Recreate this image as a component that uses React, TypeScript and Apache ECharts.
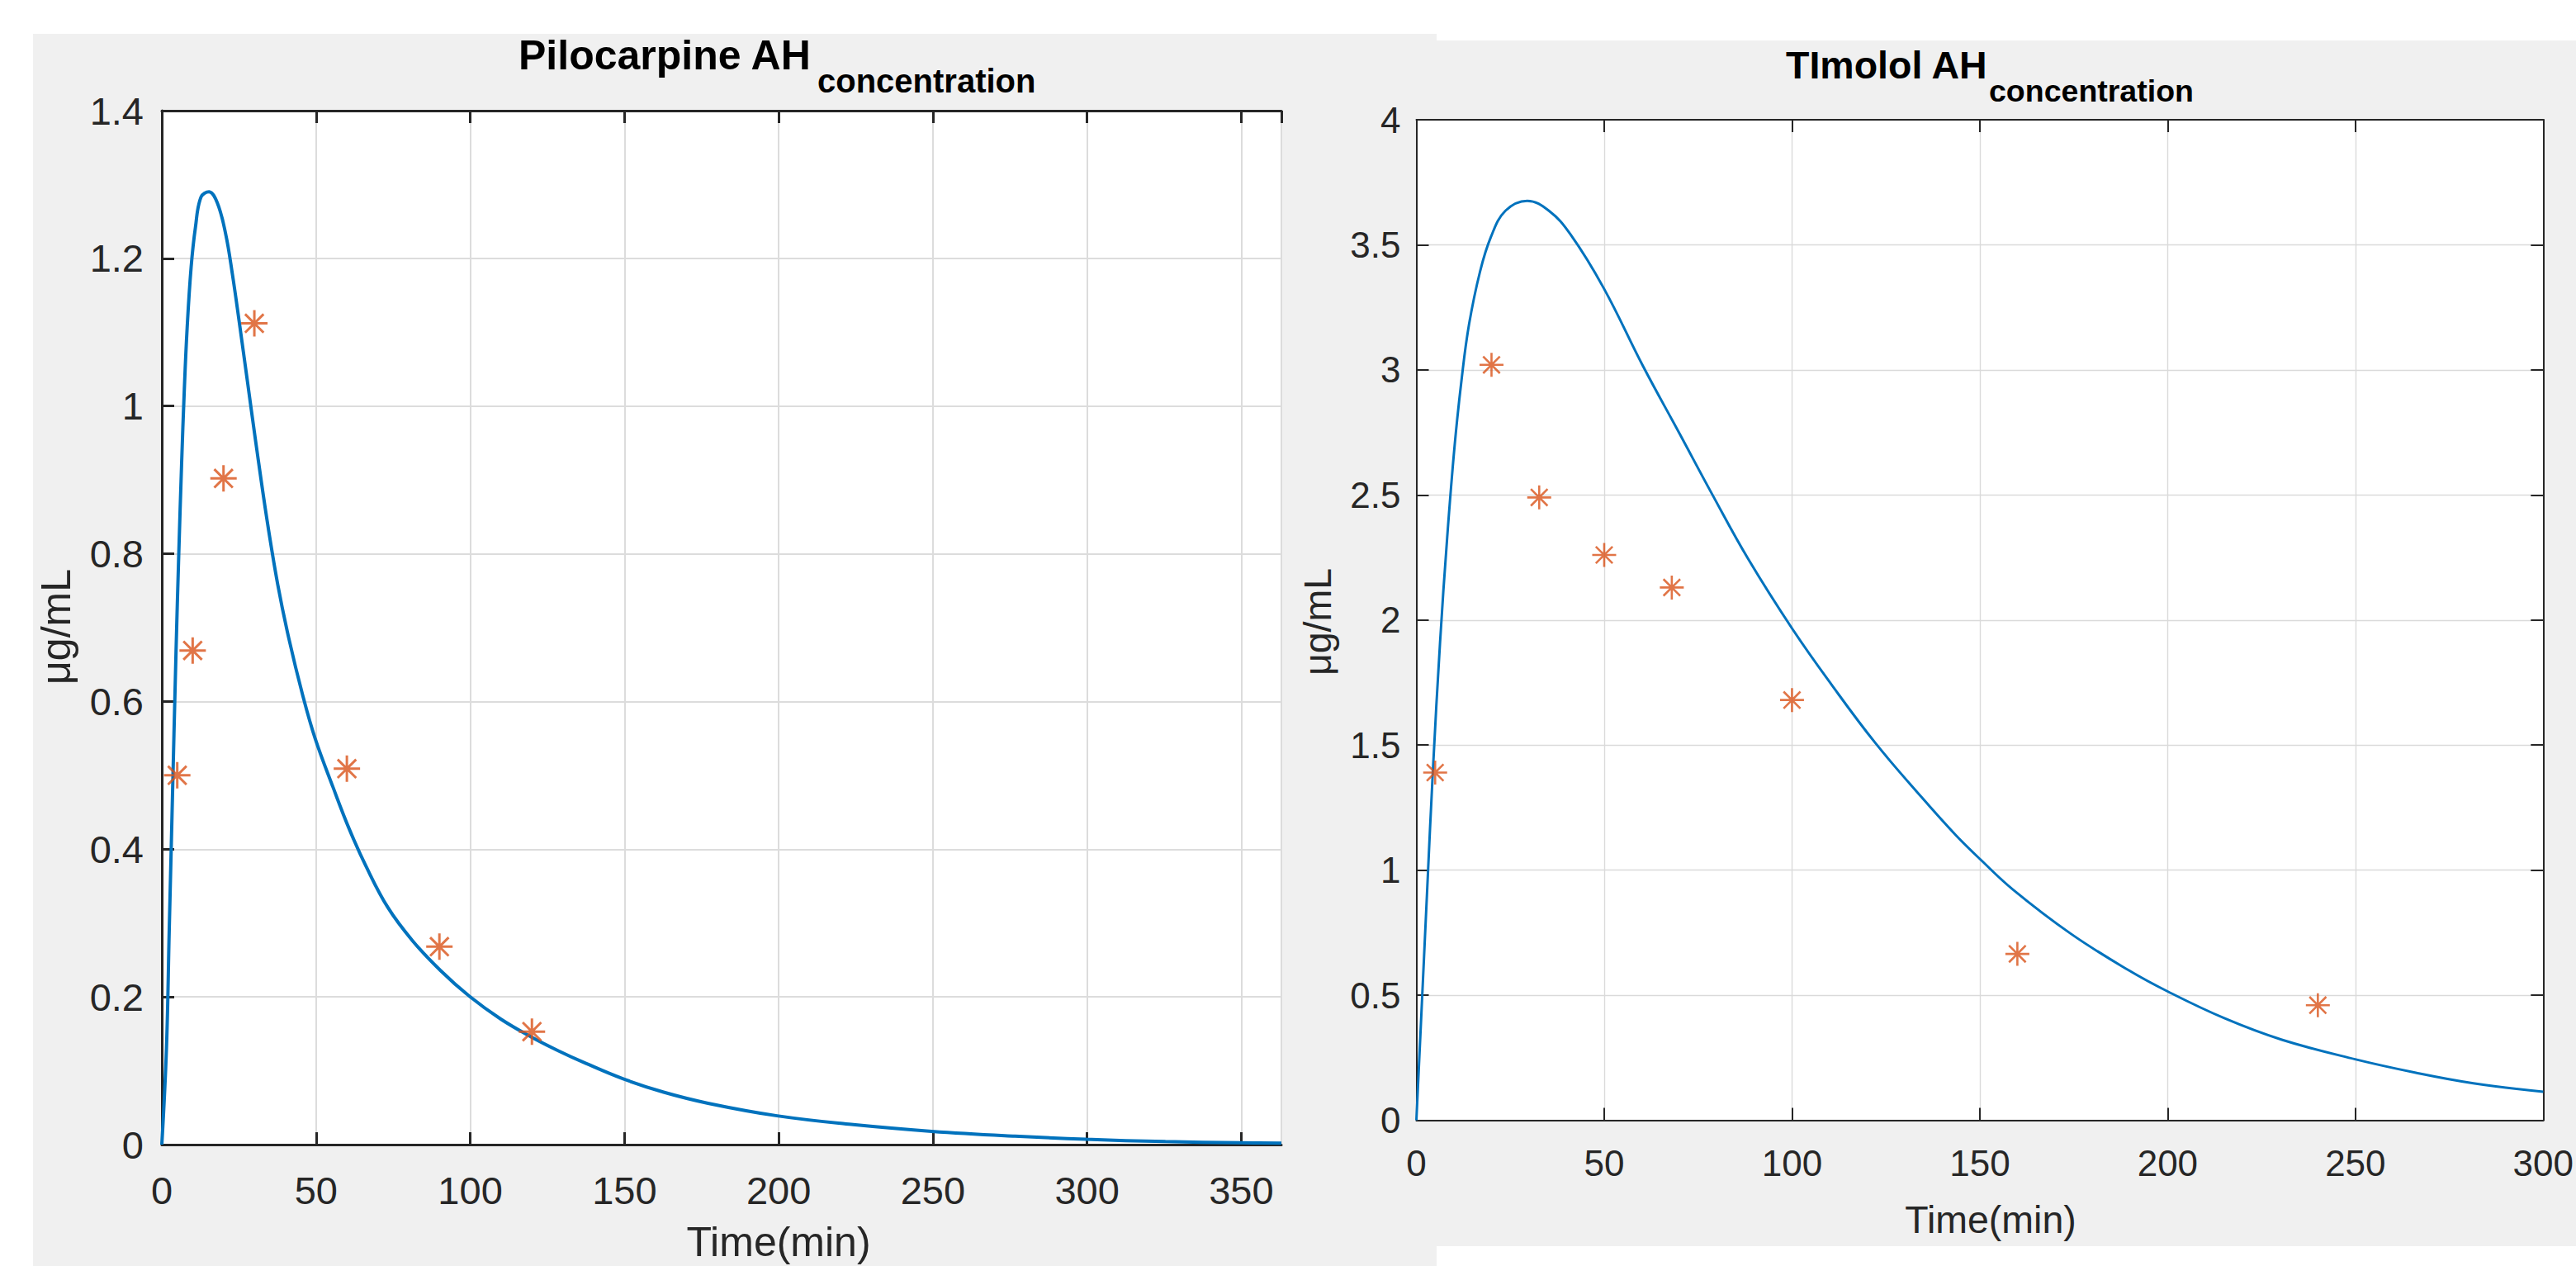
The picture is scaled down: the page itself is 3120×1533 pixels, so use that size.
import React, { useEffect, useRef } from "react";
import * as echarts from "echarts";

// ---------- data ----------
const pilocarpineCurveT = [0, 1.5, 2.4, 3.3, 4.6, 5.5, 6.4, 7.3, 8.2, 9.5, 10.9, 12.7, 15.3, 18.0, 20.7, 22.9, 25.1, 27.8, 30.5, 34.1, 37.6, 41.2, 45.7, 49.7, 55.5, 60.8, 66.2, 73.3, 81.3, 90.3, 99.7, 109.9, 119.7, 128.6, 137.5, 149.6, 162.7, 177.1, 199.5, 224.2, 249.6, 276.6, 299.6, 325.4, 349.5, 363];
const pilocarpineCurveV = [0, 0.13, 0.29, 0.445, 0.667, 0.80, 0.92, 1.023, 1.105, 1.188, 1.242, 1.283, 1.29, 1.275, 1.233, 1.178, 1.114, 1.032, 0.95, 0.846, 0.758, 0.685, 0.608, 0.550, 0.484, 0.427, 0.377, 0.321, 0.276, 0.236, 0.201, 0.170, 0.146, 0.127, 0.110, 0.089, 0.071, 0.056, 0.039, 0.027, 0.018, 0.0114, 0.0072, 0.0041, 0.0025, 0.0019];
const pilocarpineObsT = [5, 10, 20, 30, 60, 90, 120];
const pilocarpineObsV = [0.5, 0.669, 0.902, 1.112, 0.509, 0.268, 0.153];

const timololCurveT = [0, 1.5, 2.9, 4.4, 6.3, 8.2, 10.2, 12.1, 14.0, 16.9, 19.8, 23.7, 29.5, 35.3, 41.0, 49.9, 60.3, 70.0, 78.7, 88.3, 100.2, 110.5, 122.1, 134.6, 143.6, 150, 159, 174.3, 189.6, 200, 215.1, 230.4, 249.9, 266.1, 281.4, 300];
const timololCurveV = [0, 0.48, 0.93, 1.40, 1.91, 2.33, 2.70, 2.97, 3.18, 3.39, 3.53, 3.636, 3.676, 3.636, 3.542, 3.326, 3.016, 2.747, 2.504, 2.245, 1.962, 1.742, 1.510, 1.290, 1.140, 1.045, 0.920, 0.745, 0.600, 0.515, 0.408, 0.322, 0.244, 0.190, 0.148, 0.114];
const timololObsT = [5, 20, 32.7, 50, 68, 100, 160, 240];
const timololObsV = [1.39, 3.02, 2.49, 2.26, 2.13, 1.68, 0.665, 0.46];

const pilocarpineXMax = 363;
const pilocarpineYMax = 1.4;
const pilocarpineYStep = 0.2;
const timololXMax = 300;
const timololYMax = 4;
const timololYStep = 0.5;
const xStep = 50;

const leftTitle = "Pilocarpine AH";
const rightTitle = "TImolol AH";
const titleSub = "concentration";
const xName = "Time(min)";
const yName = "\u03bcg/mL";

const FONT = "Liberation Sans, Arial, Helvetica, sans-serif";
const AXIS_COLOR = "#262626";
const LINE_COLOR = "#0072BD";
const MARK_COLOR = "#D95319";
const ASTERISK = "path://M0,10L20,10M10,0L10,20M3,3L17,17M3,17L17,3";

const zip = (a: number[], b: number[]) => a.map((v, i) => [v, b[i]]);

function xAxisPair(grid: number, max: number, fs: number, margin: number, lw: number, gridW: number, gridC: string, hideMax: boolean) {
  const common = {
    gridIndex: grid,
    type: "value",
    min: 0,
    max,
    interval: xStep,
    axisLine: { show: true, onZero: false, lineStyle: { color: AXIS_COLOR, width: lw } },
    axisTick: { show: true, inside: true, length: 15, lineStyle: { color: AXIS_COLOR, width: lw } },
  };
  return [
    {
      ...common,
      position: "bottom",
      axisLabel: { show: true, margin, fontSize: fs, color: AXIS_COLOR, fontFamily: FONT, showMaxLabel: !hideMax },
      splitLine: { show: true, lineStyle: { color: gridC, width: gridW } },
    },
    {
      ...common,
      position: "top",
      axisLabel: { show: false },
      splitLine: { show: false },
    },
  ];
}

export default function App() {
  const ref = useRef<HTMLDivElement>(null);

  useEffect(() => {
    if (!ref.current) return;
    const chart = echarts.init(ref.current, undefined, { renderer: "svg" });

    const option: any = {
      animation: false,
      backgroundColor: "#ffffff",
      textStyle: { fontFamily: FONT },
      grid: [
        { left: 196, top: 134, width: 1356, height: 1252, show: true, backgroundColor: "#ffffff", borderWidth: 0, containLabel: false },
        { left: 1715.5, top: 145, width: 1385, height: 1211.5, show: true, backgroundColor: "#ffffff", borderWidth: 0, containLabel: false },
      ],
      xAxis: [
        ...xAxisPair(0, pilocarpineXMax, 47, 32, 3, 2, "#dcdcdc", true),
        ...xAxisPair(1, timololXMax, 44, 30, 2, 1.4, "#dadada", false),
      ],
      yAxis: [
        {
          gridIndex: 0, type: "value", min: 0, max: pilocarpineYMax, interval: pilocarpineYStep, position: "left",
          axisLine: { show: true, onZero: false, lineStyle: { color: AXIS_COLOR, width: 3 } },
          axisTick: { show: true, inside: true, length: 15, lineStyle: { color: AXIS_COLOR, width: 3 } },
          axisLabel: { show: true, margin: 22, fontSize: 47, color: AXIS_COLOR, fontFamily: FONT },
          splitLine: { show: true, lineStyle: { color: "#dcdcdc", width: 2 } },
        },
        {
          gridIndex: 1, type: "value", min: 0, max: timololYMax, interval: timololYStep, position: "left",
          axisLine: { show: true, onZero: false, lineStyle: { color: AXIS_COLOR, width: 2 } },
          axisTick: { show: true, inside: true, length: 15, lineStyle: { color: AXIS_COLOR, width: 2 } },
          axisLabel: { show: true, margin: 19, fontSize: 44, color: AXIS_COLOR, fontFamily: FONT },
          splitLine: { show: true, lineStyle: { color: "#dadada", width: 1.4 } },
        },
        {
          gridIndex: 1, type: "value", min: 0, max: timololYMax, interval: timololYStep, position: "right",
          axisLine: { show: true, onZero: false, lineStyle: { color: AXIS_COLOR, width: 2 } },
          axisTick: { show: true, inside: true, length: 15, lineStyle: { color: AXIS_COLOR, width: 2 } },
          axisLabel: { show: false },
          splitLine: { show: false },
        },
      ],
      series: [
        {
          type: "line", xAxisIndex: 0, yAxisIndex: 0, data: zip(pilocarpineCurveT, pilocarpineCurveV),
          showSymbol: false, smooth: 0.4, silent: true, z: 2,
          lineStyle: { color: LINE_COLOR, width: 4 },
        },
        {
          type: "scatter", xAxisIndex: 0, yAxisIndex: 0, data: zip(pilocarpineObsT, pilocarpineObsV),
          symbol: ASTERISK, symbolSize: 32, silent: true, z: 3,
          itemStyle: { color: "rgba(0,0,0,0)", borderColor: MARK_COLOR, borderWidth: 3 },
        },
        {
          type: "line", xAxisIndex: 2, yAxisIndex: 1, data: zip(timololCurveT, timololCurveV),
          showSymbol: false, smooth: 0.4, silent: true, z: 2,
          lineStyle: { color: LINE_COLOR, width: 3 },
        },
        {
          type: "scatter", xAxisIndex: 2, yAxisIndex: 1, data: zip(timololObsT, timololObsV),
          symbol: ASTERISK, symbolSize: 29, silent: true, z: 3,
          itemStyle: { color: "rgba(0,0,0,0)", borderColor: MARK_COLOR, borderWidth: 2.6 },
        },
      ],
      graphic: {
        elements: [
          { type: "rect", z: -100, silent: true, shape: { x: 40, y: 41, width: 1700, height: 1492 }, style: { fill: "#f0f0f0" } },
          { type: "rect", z: -100, silent: true, shape: { x: 1740, y: 49, width: 1380, height: 1460 }, style: { fill: "#f0f0f0" } },
          {
            type: "text", z: 100, silent: true, x: 628, y: 66.7,
            style: { text: leftTitle, fontSize: 50, fontWeight: "bold", fontFamily: FONT, fill: "#000", align: "left", textAlign: "left", verticalAlign: "middle", textVerticalAlign: "middle" },
          },
          {
            type: "text", z: 100, silent: true, x: 990, y: 98,
            style: { text: titleSub, fontSize: 40, fontWeight: "bold", fontFamily: FONT, fill: "#000", align: "left", textAlign: "left", verticalAlign: "middle", textVerticalAlign: "middle" },
          },
          {
            type: "text", z: 100, silent: true, x: 2163, y: 78.7,
            style: { text: rightTitle, fontSize: 46.5, fontWeight: "bold", fontFamily: FONT, fill: "#000", align: "left", textAlign: "left", verticalAlign: "middle", textVerticalAlign: "middle" },
          },
          {
            type: "text", z: 100, silent: true, x: 2409, y: 110.3,
            style: { text: titleSub, fontSize: 37.5, fontWeight: "bold", fontFamily: FONT, fill: "#000", align: "left", textAlign: "left", verticalAlign: "middle", textVerticalAlign: "middle" },
          },
          {
            type: "text", z: 100, silent: true, x: 943, y: 1504,
            style: { text: xName, fontSize: 50, fontFamily: FONT, fill: AXIS_COLOR, align: "center", textAlign: "center", verticalAlign: "middle", textVerticalAlign: "middle" },
          },
          {
            type: "text", z: 100, silent: true, x: 2411, y: 1476.7,
            style: { text: xName, fontSize: 46.5, fontFamily: FONT, fill: AXIS_COLOR, align: "center", textAlign: "center", verticalAlign: "middle", textVerticalAlign: "middle" },
          },
          {
            type: "text", z: 100, silent: true, x: 67.5, y: 759, rotation: Math.PI / 2,
            style: { text: yName, fontSize: 50, fontFamily: FONT, fill: AXIS_COLOR, align: "center", textAlign: "center", verticalAlign: "middle", textVerticalAlign: "middle" },
          },
          {
            type: "text", z: 100, silent: true, x: 1596, y: 753, rotation: Math.PI / 2,
            style: { text: yName, fontSize: 46.5, fontFamily: FONT, fill: AXIS_COLOR, align: "center", textAlign: "center", verticalAlign: "middle", textVerticalAlign: "middle" },
          },
        ],
      },
    };

    chart.setOption(option);
    return () => chart.dispose();
  }, []);

  return (
    <div
      ref={ref}
      style={{ position: "absolute", left: 0, top: 0, width: 3120, height: 1533 }}
    />
  );
}
